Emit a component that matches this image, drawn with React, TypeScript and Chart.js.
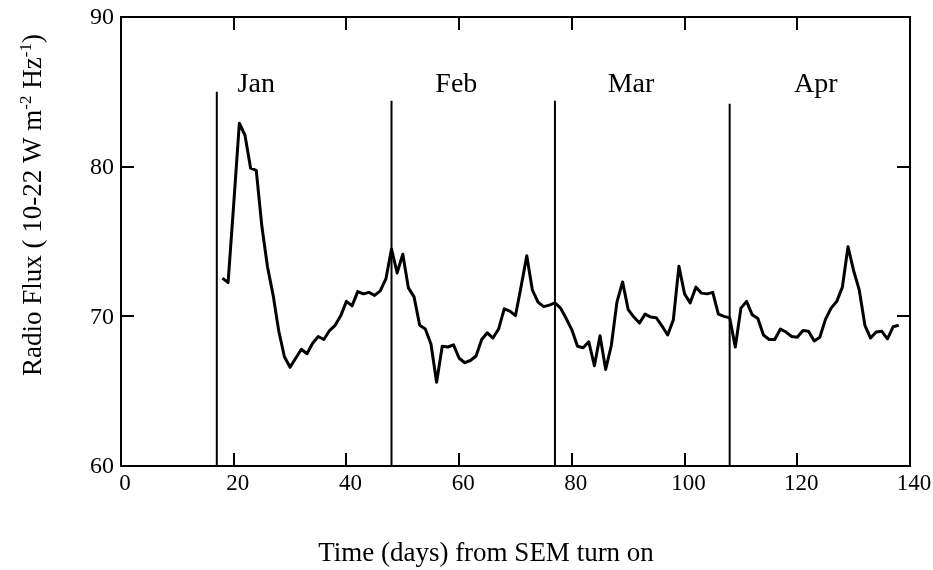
import React, { useEffect, useRef } from 'react';
import { Chart, registerables } from 'chart.js';

Chart.register(...registerables);

// ---- data ----
const days = [
  18, 19, 20, 21, 22, 23, 24, 25, 26, 27, 28, 29, 30, 31, 32, 33, 34, 35, 36, 37,
  38, 39, 40, 41, 42, 43, 44, 45, 46, 47, 48, 49, 50, 51, 52, 53, 54, 55, 56, 57,
  58, 59, 60, 61, 62, 63, 64, 65, 66, 67, 68, 69, 70, 71, 72, 73, 74, 75, 76, 77,
  78, 79, 80, 81, 82, 83, 84, 85, 86, 87, 88, 89, 90, 91, 92, 93, 94, 95, 96, 97,
  98, 99, 100, 101, 102, 103, 104, 105, 106, 107, 108, 109, 110, 111, 112, 113, 114, 115, 116, 117,
  118, 119, 120, 121, 122, 123, 124, 125, 126, 127, 128, 129, 130, 131, 132, 133, 134, 135, 136, 137,
  138,
];

const flux = [
  72.55, 72.25, 77.5, 82.9, 82.1, 79.9, 79.75, 76.0, 73.3, 71.4,
  69.0, 67.3, 66.6, 67.2, 67.8, 67.5, 68.2, 68.65, 68.45, 69.05,
  69.4, 70.05, 71.0, 70.7, 71.65, 71.5, 71.6, 71.4, 71.7, 72.5,
  74.5, 72.9, 74.15, 71.9, 71.3, 69.4, 69.15, 68.15, 65.6, 68.0,
  67.95, 68.1, 67.2, 66.9, 67.05, 67.35, 68.45, 68.9, 68.55, 69.15,
  70.5, 70.35, 70.05, 72.0, 74.05, 71.75, 70.95, 70.65, 70.75, 70.9,
  70.55, 69.85, 69.1, 68.0, 67.9, 68.3, 66.7, 68.7, 66.45, 68.05,
  70.95, 72.3, 70.45, 69.95, 69.55, 70.15, 69.95, 69.9, 69.35, 68.75,
  69.75, 73.35, 71.5, 70.9, 71.95, 71.55, 71.5, 71.6, 70.15, 70.0,
  69.9, 67.95, 70.55, 71.0, 70.1, 69.85, 68.75, 68.45, 68.45, 69.15,
  68.95, 68.65, 68.6, 69.05, 69.0, 68.35, 68.6, 69.8, 70.55, 71.0,
  71.95, 74.65, 73.05, 71.75, 69.4, 68.55, 68.95, 69.0, 68.5, 69.3,
  69.4,
];

const monthNames = ['Jan', 'Feb', 'Mar', 'Apr'];
const monthStartDays = [17, 48, 77, 108];
const monthLineTops = [85, 84.4, 84.4, 84.2];
const monthLabelDays = [24, 59.5, 90.5, 123.3];
const monthLabelLevel = 85;

const xTickValues = [0, 20, 40, 60, 80, 100, 120, 140];
const yTickValues = [60, 70, 80, 90];

const xTitle = 'Time (days) from SEM turn on';
// y title pieces: [text, isSuperscript]
const yTitleParts: [string, boolean][] = [
  ['Radio Flux ( 10-22 W m', false],
  ['-2', true],
  [' Hz', false],
  ['-1', true],
  [')', false],
];

const SERIF = '"Liberation Serif", "Times New Roman", serif';

const decorPlugin = {
  id: 'decor',
  afterDraw(chart: any) {
    const { ctx, chartArea: a, scales } = chart;
    const x = scales.x;
    const y = scales.y;
    ctx.save();
    ctx.strokeStyle = '#000';
    ctx.fillStyle = '#000';

    // frame
    ctx.lineWidth = 2;
    ctx.strokeRect(a.left, a.top, a.right - a.left, a.bottom - a.top);

    // inward ticks
    const tl = 13;
    ctx.lineWidth = 2;
    ctx.beginPath();
    xTickValues.forEach((v) => {
      const px = Math.round(x.getPixelForValue(v));
      if (px > a.left + 2 && px < a.right - 2) {
        ctx.moveTo(px, a.bottom);
        ctx.lineTo(px, a.bottom - tl);
        ctx.moveTo(px, a.top);
        ctx.lineTo(px, a.top + tl);
      }
    });
    yTickValues.forEach((v) => {
      const py = Math.round(y.getPixelForValue(v));
      if (py > a.top + 2 && py < a.bottom - 2) {
        ctx.moveTo(a.left, py);
        ctx.lineTo(a.left + tl, py);
        ctx.moveTo(a.right, py);
        ctx.lineTo(a.right - tl, py);
      }
    });
    ctx.stroke();

    // x tick labels
    ctx.font = `23px ${SERIF}`;
    ctx.textAlign = 'center';
    ctx.textBaseline = 'alphabetic';
    xTickValues.forEach((v) => {
      const px = x.getPixelForValue(v);
      ctx.fillText(String(v), px + 4, a.bottom + 24);
    });

    // y tick labels
    ctx.font = `24px ${SERIF}`;
    ctx.textAlign = 'right';
    ctx.textBaseline = 'middle';
    yTickValues.forEach((v) => {
      const py = y.getPixelForValue(v);
      ctx.fillText(String(v), a.left - 7, py + 1);
    });

    // month labels
    ctx.font = `28px ${SERIF}`;
    ctx.textAlign = 'center';
    ctx.textBaseline = 'alphabetic';
    monthNames.forEach((m, i) => {
      ctx.fillText(m, x.getPixelForValue(monthLabelDays[i]), y.getPixelForValue(monthLabelLevel));
    });

    // x title
    ctx.font = `27px ${SERIF}`;
    ctx.textAlign = 'center';
    ctx.fillText(xTitle, 486, 561);

    // y title (rotated, with superscripts)
    const mainFont = `27px ${SERIF}`;
    const supFont = `17px ${SERIF}`;
    let total = 0;
    yTitleParts.forEach(([t, sup]) => {
      ctx.font = sup ? supFont : mainFont;
      total += ctx.measureText(t).width;
    });
    ctx.translate(41, 205);
    ctx.rotate(-Math.PI / 2);
    ctx.textAlign = 'left';
    ctx.textBaseline = 'alphabetic';
    let cx = -total / 2;
    yTitleParts.forEach(([t, sup]) => {
      ctx.font = sup ? supFont : mainFont;
      ctx.fillText(t, cx, sup ? -10 : 0);
      cx += ctx.measureText(t).width;
    });
    ctx.restore();
  },
};

export default function App() {
  const canvasRef = useRef<HTMLCanvasElement | null>(null);

  useEffect(() => {
    const canvas = canvasRef.current;
    if (!canvas) return;

    const series = days.map((d, i) => ({ x: d, y: flux[i] }));
    const monthSets = monthStartDays.map((d, i) => ({
      label: monthNames[i] + ' start',
      data: [
        { x: d, y: 60 },
        { x: d, y: monthLineTops[i] },
      ],
      borderColor: '#000',
      borderWidth: 2,
      pointRadius: 0,
      fill: false,
    }));

    const chart = new Chart(canvas, {
      type: 'line',
      data: {
        datasets: [
          {
            label: 'Radio Flux',
            data: series,
            borderColor: '#000',
            borderWidth: 3,
            pointRadius: 0,
            tension: 0,
            fill: false,
            borderJoinStyle: 'round',
          },
          ...monthSets,
        ],
      },
      options: {
        responsive: false,
        animation: false,
        devicePixelRatio: 1,
        layout: { padding: { left: 121, right: 23, top: 17, bottom: 104 } },
        scales: {
          x: { type: 'linear', min: 0, max: 140, display: false },
          y: { type: 'linear', min: 60, max: 90, display: false },
        },
        plugins: {
          legend: { display: false },
          tooltip: { enabled: false },
        },
      },
      plugins: [decorPlugin],
    } as any);

    return () => chart.destroy();
  }, []);

  return (
    <div style={{ position: 'absolute', left: 0, top: 0, width: 933, height: 570, background: '#fff' }}>
      <canvas ref={canvasRef} width={933} height={570} />
    </div>
  );
}
